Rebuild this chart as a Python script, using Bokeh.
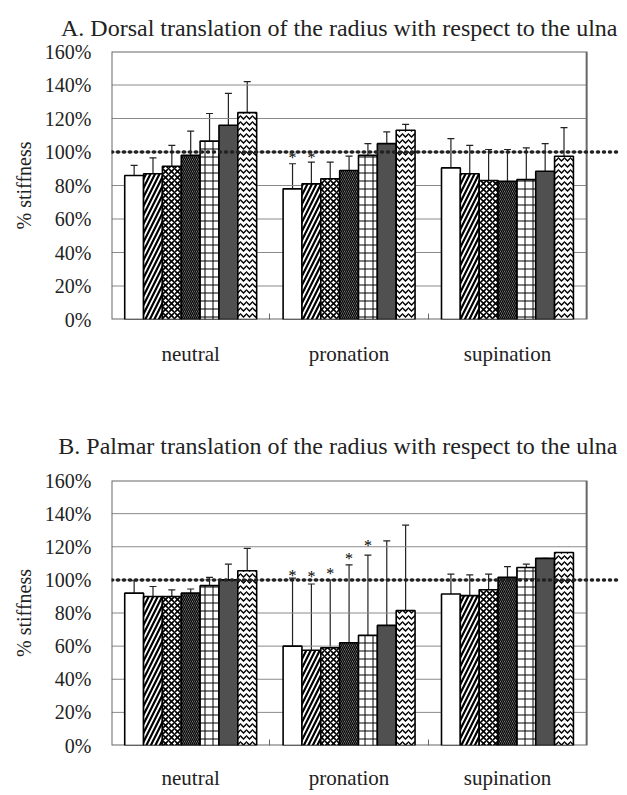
from bokeh.plotting import figure
from bokeh.models import (Range1d, FixedTicker, Whisker, TeeHead, ColumnDataSource,
                          Span, Title)
from bokeh.layouts import column
from bokeh.embed import file_html
from bokeh.resources import INLINE
from bokeh.core.properties import value

# ---------------- data ----------------
groups = ["neutral", "pronation", "supination"]
y_ticks = [0, 20, 40, 60, 80, 100, 120, 140, 160]
y_tick_labels = ["0%", "20%", "40%", "60%", "80%", "100%", "120%", "140%", "160%"]

# Panel A: dorsal translation (mean, mean+SD) per group, 7 bars each
a_neutral = [86, 87, 91.5, 98, 106.5, 116, 123.5]
a_neutral_err = [92, 96.5, 104, 112.5, 123, 135, 142]
a_pronation = [78, 81, 84, 89, 98, 105, 113]
a_pronation_err = [93, 94, 94, 97.5, 105, 112, 116.5]
a_supination = [90.5, 87, 83, 82.5, 83.5, 88.5, 97.5]
a_supination_err = [108, 104, 101.5, 101.5, 102.5, 105, 114.5]
a_star_group = [1, 1]
a_star_bar = [0, 1]
a_star_y = [97, 97]

# Panel B: palmar translation
b_neutral = [92, 90, 90, 92, 96.5, 100, 105.5]
b_neutral_err = [99.5, 96, 94, 94.5, 101.5, 109.5, 119]
b_pronation = [60, 57.5, 59, 62, 66.5, 72.5, 81.5]
b_pronation_err = [101, 97.5, 100, 109, 115, 123.5, 133]
b_supination = [91.5, 90.5, 94, 101.5, 107.5, 113, 116.5]
b_supination_err = [103.5, 103, 103.5, 108, 109.5, 113, 116.5]
b_star_group = [1, 1, 1, 1, 1]
b_star_bar = [0, 1, 2, 3, 4]
b_star_y = [102.5, 102, 104, 113, 121]

# ---------------- styles ----------------
SERIF = "Liberation Serif"
fills = ["white", "white", "white", "#9a9a9a", "white", "#505050", "white"]
hatches = [" ", "right_diagonal_line", "diagonal_cross", "left_diagonal_line",
           "cross", " ", "horizontal_wave"]
hscales = [8, 9, 6, 4, 8, 8, 6]
hweights = [1, 2.2, 1.6, 1.3, 1, 1, 1.4]
bw = 0.119


def panel(title, means, errs, star_group, star_bar, star_y, height,
          border_top, border_bottom, label_standoff, title_standoff, title_valign):
    p = figure(width=621, height=height, output_backend="svg", toolbar_location=None,
               x_range=Range1d(0, 3.22), y_range=Range1d(0, 160),
               min_border_left=111, min_border_right=0,
               min_border_top=border_top, min_border_bottom=border_bottom)
    p.outline_line_color = None
    p.xgrid.visible = False
    p.ygrid.visible = False
    p.background_fill_color = "white"

    t = Title(text=title, align="right", text_font=SERIF, text_font_size="24px",
              text_font_style="normal", text_color="#222", standoff=title_standoff,
              offset=4, vertical_align=title_valign)
    p.add_layout(t, "above")

    # gridlines and frame
    p.segment(x0=0, x1=3, y0=y_ticks[1:-1], y1=y_ticks[1:-1], line_color="#8a8a8a", line_width=1)
    p.quad(left=0, right=3, bottom=0, top=160, fill_color=None, line_color="#666", line_width=2)

    xs, tops, ups, fc, hp, hs, hw = [], [], [], [], [], [], []
    for g in range(3):
        for i in range(7):
            xs.append(g + 0.5 + (i - 3) * bw)
            tops.append(means[g][i])
            ups.append(errs[g][i])
            fc.append(fills[i])
            hp.append(hatches[i])
            hs.append(hscales[i])
            hw.append(hweights[i])
    src = ColumnDataSource(dict(x=xs, top=tops, up=ups, fill=fc, hatch=hp, hs=hs, hw=hw))

    w = Whisker(source=src, base="x", lower="top", upper="up", line_color="#222",
                line_width=1.2, lower_head=None,
                upper_head=TeeHead(size=7, line_color="#222", line_width=1.2))
    p.add_layout(w)

    p.vbar(x="x", top="top", width=bw, source=src, fill_color="fill",
           hatch_pattern="hatch", hatch_scale="hs", hatch_weight="hw",
           hatch_color="black", line_color="black", line_width=1.6)

    sx = [g + 0.5 + (b - 3) * bw for g, b in zip(star_group, star_bar)]
    p.text(x=sx, y=star_y, text=["*"] * len(sx), text_align="center",
           text_baseline="middle", text_font=value(SERIF), text_font_size="16px",
           text_color="black")

    p.add_layout(Span(location=100, dimension="width", line_color="#222",
                      line_width=3.5, line_dash="1 5", line_cap="round"))

    # axes
    p.yaxis.ticker = FixedTicker(ticks=y_ticks)
    p.yaxis.major_label_overrides = {k: v for k, v in zip(y_ticks, y_tick_labels)}
    p.yaxis.major_label_text_font = SERIF
    p.yaxis.major_label_text_font_size = "20px"
    p.yaxis.major_label_text_color = "#222"
    p.yaxis.axis_line_color = None
    p.yaxis.major_tick_in = 0
    p.yaxis.major_tick_out = 0
    p.yaxis.minor_tick_line_color = None
    p.yaxis.major_label_standoff = 20
    p.yaxis.axis_label = "% stiffness"
    p.yaxis.axis_label_text_font = SERIF
    p.yaxis.axis_label_text_font_size = "20px"
    p.yaxis.axis_label_text_font_style = "normal"
    p.yaxis.axis_label_text_color = "#222"
    p.yaxis.axis_label_standoff = 7

    p.xaxis.ticker = FixedTicker(ticks=[0.5, 1.5, 2.5], minor_ticks=[1, 2])
    p.xaxis.major_label_overrides = {0.5: groups[0], 1.5: groups[1], 2.5: groups[2]}
    p.xaxis.major_label_text_font = SERIF
    p.xaxis.major_label_text_font_size = "21px"
    p.xaxis.major_label_text_color = "#222"
    p.xaxis.axis_line_color = None
    p.xaxis.major_tick_in = 0
    p.xaxis.major_tick_out = 0
    p.xaxis.minor_tick_in = 6
    p.xaxis.minor_tick_out = 0
    p.xaxis.minor_tick_line_color = "#666"
    p.xaxis.major_label_standoff = label_standoff
    return p


pa = panel("A. Dorsal translation of the radius with respect to the ulna",
           [a_neutral, a_pronation, a_supination],
           [a_neutral_err, a_pronation_err, a_supination_err],
           a_star_group, a_star_bar, a_star_y,
           height=374, border_top=51, border_bottom=55, label_standoff=22,
           title_standoff=18, title_valign="top")
pb = panel("B. Palmar translation of the radius with respect to the ulna",
           [b_neutral, b_pronation, b_supination],
           [b_neutral_err, b_pronation_err, b_supination_err],
           b_star_group, b_star_bar, b_star_y,
           height=418, border_top=106, border_bottom=45, label_standoff=20,
           title_standoff=43, title_valign="bottom")

layout = column(pa, pb, spacing=0)
open("out.html", "w").write(file_html(layout, INLINE))
